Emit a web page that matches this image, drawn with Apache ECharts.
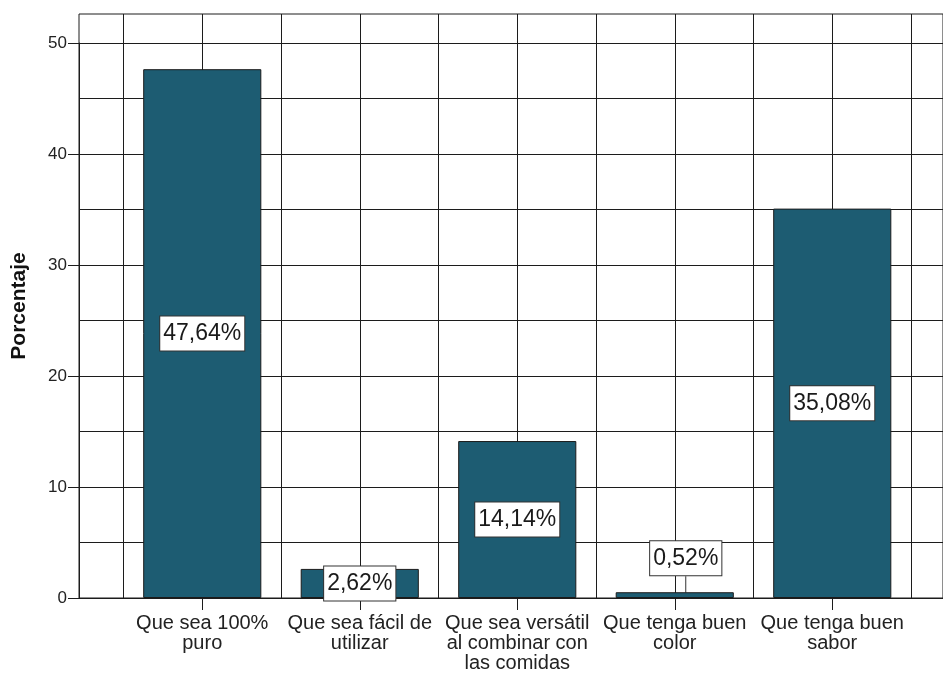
<!DOCTYPE html>
<html>
<head>
<meta charset="utf-8">
<script src="https://cdn.jsdelivr.net/npm/echarts@6/dist/echarts.min.js"></script>
<style>
  html, body { margin: 0; padding: 0; background: #fff; }
  #chart { width: 943px; height: 675px; }
</style>
</head>
<body>
<div id="chart"></div>
<script>
// Survey answers and their share of respondents (%)
const categories = [
  'Que sea 100%\npuro',
  'Que sea fácil de\nutilizar',
  'Que sea versátil\nal combinar con\nlas comidas',
  'Que tenga buen\ncolor',
  'Que tenga buen\nsabor'
];
const percentages = [47.64, 2.62, 14.14, 0.52, 35.08];
const yTicks = [0, 10, 20, 30, 40, 50];

const FONT = '"Liberation Sans", Arial, sans-serif';
const INK = '#222';
const LINE = '#1c1c1c';
const BAR = '#1d5c72';

// plot frame geometry (px)
const plotLeft = 79, plotTop = 14, plotBottom = 598, plotWidth = 876;
const pxPerUnit = (plotBottom - 43) / yTicks[yTicks.length - 1];
const catLeft = 123.5, catWidth = 787.5;
const frameMax = (plotBottom - plotTop) / pxPerUnit;

const fmt = v => v.toFixed(2).replace('.', ',') + '%';
const smallIdx = percentages.indexOf(Math.min(...percentages));

const chart = echarts.init(document.getElementById('chart'), null, { renderer: 'canvas' });

chart.setOption({
  animation: false,
  backgroundColor: '#fff',
  grid: [
    // outer frame
    { left: plotLeft, top: plotTop, width: plotWidth, height: plotBottom - plotTop,
      show: true, borderColor: LINE, borderWidth: 1, backgroundColor: 'transparent' },
    // value scale with horizontal rules
    { left: plotLeft, top: plotBottom - yTicks[yTicks.length - 1] * pxPerUnit,
      width: plotWidth, height: yTicks[yTicks.length - 1] * pxPerUnit },
    // category band holding the bars
    { left: catLeft, top: plotTop, width: catWidth, height: plotBottom - plotTop }
  ],
  xAxis: [
    { gridIndex: 0, type: 'value', show: false },
    { gridIndex: 1, type: 'value', show: false },
    {
      gridIndex: 2, type: 'category', data: categories,
      boundaryGap: true,
      axisLine: { show: false },
      axisTick: { show: true, alignWithLabel: true, length: 12, lineStyle: { color: LINE, width: 1 } },
      axisLabel: { interval: 0, margin: 15, fontFamily: FONT, fontSize: 20, lineHeight: 20, color: INK },
      splitLine: { show: false }
    },
    {
      // vertical rules at half-category steps
      gridIndex: 2, type: 'value', min: 0, max: categories.length * 2, interval: 1,
      axisLine: { show: false }, axisTick: { show: false }, axisLabel: { show: false },
      splitLine: { show: true, lineStyle: { color: LINE, width: 1 } }
    }
  ],
  yAxis: [
    {
      // carries the axis title, centred on the whole frame
      gridIndex: 0, type: 'value', min: 0, max: 1,
      name: 'Porcentaje', nameLocation: 'middle', nameGap: 49,
      nameTextStyle: { fontFamily: FONT, fontSize: 21, fontWeight: 'bold', color: '#111' },
      axisLine: { show: false }, axisTick: { show: false },
      axisLabel: { show: false }, splitLine: { show: false }
    },
    {
      gridIndex: 1, type: 'value', min: yTicks[0], max: yTicks[yTicks.length - 1],
      interval: yTicks[1] - yTicks[0],
      axisLine: { show: true, lineStyle: { color: LINE, width: 1 } },
      axisTick: { show: true, length: 11, lineStyle: { color: LINE, width: 1 } },
      axisLabel: { margin: 12, fontFamily: FONT, fontSize: 17, color: INK },
      splitLine: { show: true, lineStyle: { color: LINE, width: 1 } },
      minorTick: { show: false, splitNumber: 2 },
      minorSplitLine: { show: true, lineStyle: { color: LINE, width: 1 } }
    },
    { gridIndex: 2, type: 'value', min: 0, max: frameMax, show: false }
  ],
  series: [{
    type: 'bar',
    xAxisIndex: 2,
    yAxisIndex: 2,
    barCategoryGap: '25%',
    data: percentages.map((v, i) => i === smallIdx
      ? { value: v, label: { position: 'top', distance: 17, offset: [0, 0] } }
      : { value: v }),
    itemStyle: { color: BAR, borderColor: '#1b1b1b', borderWidth: 1 },
    label: {
      show: true,
      position: 'inside',
      offset: [0, 4],
      formatter: p => fmt(p.value),
      fontFamily: FONT, fontSize: 23, color: '#1a1a1a',
      backgroundColor: '#fff', borderColor: '#333', borderWidth: 1,
      padding: [6, 3, 5, 3]
    },
    labelLayout: p => p.dataIndex === smallIdx ? { dx: 11 } : {},
    labelLine: { show: true, lineStyle: { color: '#333', width: 1 } },
    z: 5
  }]
});
</script>
</body>
</html>
